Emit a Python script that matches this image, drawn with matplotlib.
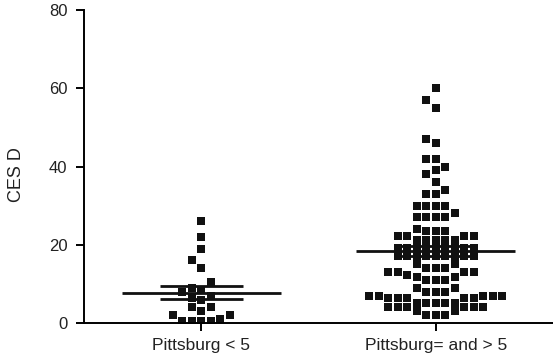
import numpy as np
import matplotlib
matplotlib.use("Agg")
import matplotlib.pyplot as plt

plt.rcParams['font.family'] = ['Liberation Sans', 'DejaVu Sans']

# kategorije i vrijednosti (procijenjeno sa slike)
kategorije = ["Pittsburg < 5", "Pittsburg= and > 5"]

grupa_manje = [26, 22, 19, 16, 14, 10.5, 9, 8.5, 8, 7, 6.5, 6, 4, 3, 4,
               2, 2, 1, 0.5, 0.5, 0.5, 0.5]

grupa_vece = [60, 57, 55, 47, 46, 42, 42, 40, 39, 38, 36, 34, 33, 33,
              30, 30, 30, 30, 28, 27, 27, 27, 27,
              24, 23.6, 23.6, 23.5,
              22.2, 22.2, 22.2, 22.2, 21.3, 21.3, 21.3, 21.3, 21.3,
              19.2, 19.2, 19.2, 19.2, 19.2, 19.2, 19.2, 19.2, 19.2,
              17.1, 17.1, 17.1, 17.1, 17.1, 17.1, 17.1, 17.1, 17.1,
              15, 15, 14, 14, 14,
              13, 13, 13, 13, 12.3, 11.8, 11.8, 11, 11, 11,
              9, 9, 8, 8, 8,
              6.8, 6.8, 6.8, 6.8, 6.8, 6.3, 6.3, 6.3, 6.3, 6.3,
              5.1, 5.1, 5.1, 5.1, 5.1, 4, 4, 4, 4, 4, 4, 3, 3, 2, 2, 2]

y_tickovi = [0, 20, 40, 60, 80]

RAZMAK = 0.0405    # horizontalni razmak tocaka (u jedinicama x osi)
VISINA = 2.05      # razmak po y ispod kojeg se tocke ne smiju preklapati


def rasporedi(vrijednosti, centar):
    """Slaze tocke jednu po jednu na najblize slobodno mjesto (kao Prism scatter)."""
    v = np.sort(np.array(vrijednosti, dtype=float))
    kandidati = [0.0]
    for k in range(1, 40):
        kandidati += [-k / 2, k / 2]
    postavljene = []  # (pomak, y)
    for y in v:
        blizu = [p for p, yy in postavljene if abs(yy - y) < VISINA]
        for k in kandidati:
            if all(abs(k - p) >= 1 for p in blizu):
                postavljene.append((k, y))
                break
    xs = [centar + p * RAZMAK for p, _ in postavljene]
    ys = [yy for _, yy in postavljene]
    return xs, ys


fig = plt.figure(figsize=(5.53, 3.59), dpi=100)
ax = fig.add_axes([0.152, 0.1003, 0.848, 0.8717])

for poz, grupa in enumerate([grupa_manje, grupa_vece]):
    xs, ys = rasporedi(grupa, poz)
    ax.plot(xs, ys, linestyle="none", marker="s", markersize=5.8,
            color="#111111", markeredgewidth=0, zorder=3)

    sr = np.mean(grupa)
    sem = np.std(grupa, ddof=1) / np.sqrt(len(grupa))
    ax.hlines(sr, poz - 0.34, poz + 0.34, color="#111111", linewidth=2.0, zorder=4)
    ax.hlines([sr - sem, sr + sem], poz - 0.177, poz + 0.177,
              color="#111111", linewidth=2.0, zorder=4)

ax.set_xlim(-0.5, 1.5)
ax.set_ylim(0, 80)
ax.set_xticks([0, 1])
ax.set_xticklabels(kategorije, fontsize=12.5, color="#222222")
ax.set_yticks(y_tickovi)
ax.tick_params(axis="y", labelsize=12, labelcolor="#222222", length=6, width=1.4, pad=6)
ax.tick_params(axis="x", length=6, width=1.4, pad=5)
ax.set_ylabel("CES D", fontsize=13, color="#222222")
ax.yaxis.set_label_coords(-0.125, 0.475)

for strana in ["top", "right"]:
    ax.spines[strana].set_visible(False)
for strana in ["left", "bottom"]:
    ax.spines[strana].set_linewidth(1.4)
    ax.spines[strana].set_zorder(5)

plt.savefig("out.png", dpi=100)
